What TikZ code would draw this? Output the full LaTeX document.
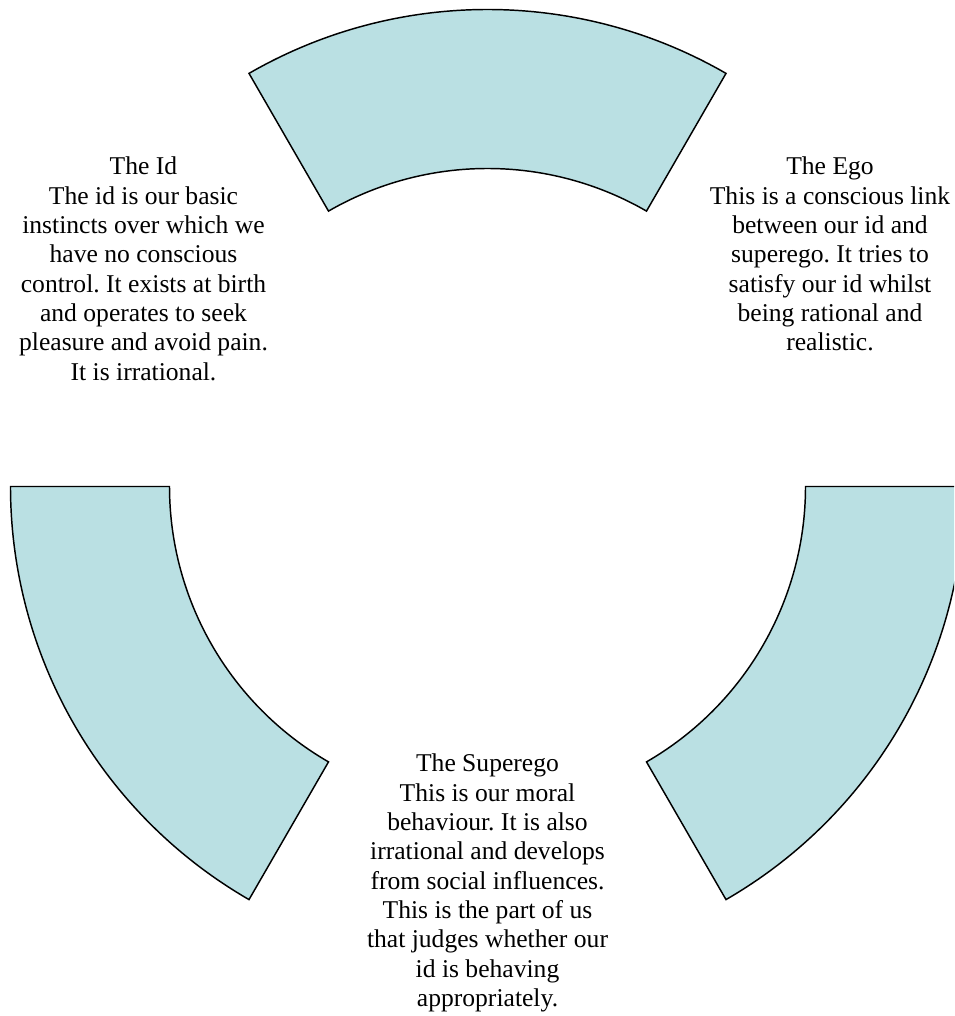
\documentclass[tikz,border=0pt]{standalone}
\usepackage{fontspec}
\setmainfont{Liberation Serif}
\frenchspacing
\definecolor{ringfill}{RGB}{186,224,227}
\begin{document}
\begin{tikzpicture}[x=0.75pt,y=0.75pt,
  sector/.style={fill=ringfill,draw=black,line width=1.1pt,line join=miter},
  label/.style={anchor=base,inner sep=0pt,font=\fontsize{19.2}{21.98}\selectfont}]
\useasboundingbox (0,0) rectangle (954,1016);
\begin{scope}
\clip (0,0) rectangle (954,1016);
\coordinate (c) at (487.5,529.5);
\begin{scope}[shift={(c)}]
  % top sector
  \draw[sector] (60:477) arc[start angle=60,end angle=120,radius=477]
    -- (120:318) arc[start angle=120,end angle=60,radius=318] -- cycle;
  % lower left sector
  \draw[sector] (180:477) arc[start angle=180,end angle=240,radius=477]
    -- (240:318) arc[start angle=240,end angle=180,radius=318] -- cycle;
  % lower right sector
  \draw[sector] (300:477) arc[start angle=300,end angle=360,radius=477]
    -- (360:318) arc[start angle=360,end angle=300,radius=318] -- cycle;
\end{scope}
\end{scope}
\node[label] (id) at (143.5,841) {\begin{tabular}[t]{@{}c@{}}The Id\\The id is our basic\\instincts over which we\\have no conscious\\control. It exists at birth\\and operates to seek\\pleasure and avoid pain.\\It is irrational.\end{tabular}};
\node[label] (ego) at (830,841) {\begin{tabular}[t]{@{}c@{}}The Ego\\This is a conscious link\\between our id and\\superego. It tries to\\satisfy our id whilst\\being rational and\\realistic.\end{tabular}};
\node[label] (superego) at (487.5,244) {\begin{tabular}[t]{@{}c@{}}The Superego\\This is our moral\\behaviour. It is also\\irrational and develops\\from social influences.\\This is the part of us\\that judges whether our\\id is behaving\\appropriately.\end{tabular}};
\end{tikzpicture}
\end{document}
